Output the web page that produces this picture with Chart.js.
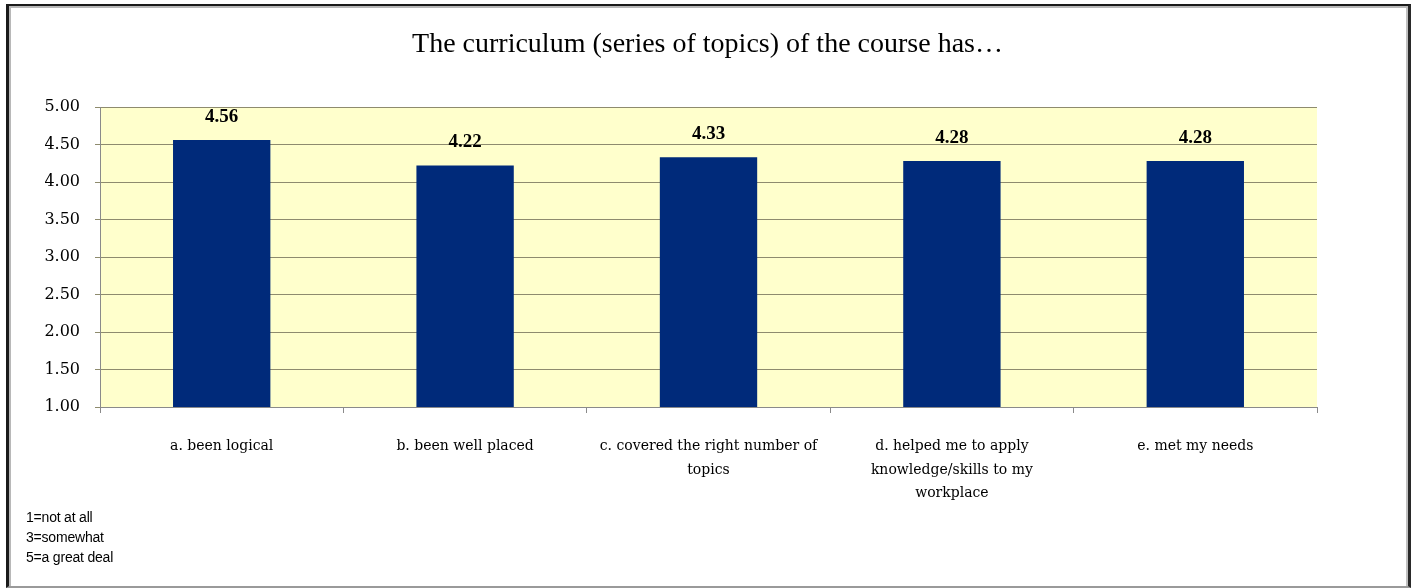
<!DOCTYPE html>
<html>
<head>
<meta charset="utf-8">
<script src="https://cdn.jsdelivr.net/npm/chart.js@4"></script>
<style>
  html, body { margin: 0; padding: 0; background: #ffffff; }
  #wrap { position: relative; width: 1415px; height: 588px; overflow: hidden; }
  #frame { position: absolute; left: 6px; top: 4px; width: 1399px; height: 580px;
           border-left: 3px solid #1a1a1a; border-top: 2px solid #1a1a1a;
           border-right: 3px solid #2a2a2a; border-bottom: 2px solid #9a9a9a;
           box-shadow: inset 2px 2px 0 #b8b8b8, inset -2px 0 0 #c0c0c0; pointer-events: none; }
  #note { position: absolute; left: 26px; top: 507px; font: 14px "Liberation Sans", Arial, sans-serif;
          line-height: 20px; color: #000; letter-spacing: -0.2px; }
  canvas { position: absolute; left: 0; top: 0; }
</style>
</head>
<body>
<div id="wrap">
  <canvas id="c" width="1415" height="588"></canvas>
  <div id="frame"></div>
  <div id="note">1=not at all<br>3=somewhat<br>5=a great deal</div>
</div>
<script>
const categories = [
  "a. been logical",
  "b. been well placed",
  ["c. covered the right number of", "topics"],
  ["d. helped me to apply", "knowledge/skills to my", "workplace"],
  "e. met my needs"
];
const scores = [4.56, 4.22, 4.33, 4.28, 4.28];
const yTicks = [1.00, 1.50, 2.00, 2.50, 3.00, 3.50, 4.00, 4.50, 5.00];
const chartTitle = "The curriculum (series of topics) of the course has\u2026";

const plotBg = {
  id: 'plotBg',
  beforeDraw(chart) {
    const a = chart.chartArea, ctx = chart.ctx;
    ctx.save();
    ctx.fillStyle = '#FFFFCC';
    ctx.fillRect(a.left, a.top, a.right - a.left, a.bottom - a.top);
    ctx.restore();
  }
};

const valueLabels = {
  id: 'valueLabels',
  afterDatasetsDraw(chart) {
    const ctx = chart.ctx;
    const meta = chart.getDatasetMeta(0);
    ctx.save();
    ctx.font = 'bold 19px "Liberation Serif", "Times New Roman", serif';
    ctx.fillStyle = '#000';
    ctx.textAlign = 'center';
    ctx.textBaseline = 'middle';
    meta.data.forEach((bar, i) => {
      ctx.fillText(scores[i].toFixed(2), bar.x, bar.y - 23);
    });
    ctx.restore();
  }
};

new Chart(document.getElementById('c'), {
  type: 'bar',
  data: {
    labels: categories,
    datasets: [{
      data: scores,
      backgroundColor: '#002A7A',
      borderWidth: 0,
      categoryPercentage: 1.0,
      barPercentage: 0.4
    }]
  },
  options: {
    responsive: false,
    animation: false,
    events: [],
    layout: { padding: { left: 0, right: 0, top: 0, bottom: 0 } },
    plugins: {
      legend: { display: false },
      tooltip: { enabled: false },
      title: {
        display: true,
        text: chartTitle,
        color: '#000',
        font: { family: '"Liberation Serif", "Times New Roman", serif', size: 28, weight: 'normal', lineHeight: 1.0 },
        padding: { top: 31, bottom: 48 }
      }
    },
    scales: {
      x: {
        grid: { display: true, drawOnChartArea: false, drawTicks: true, tickLength: 6, color: '#8a8a8a', offset: true },
        border: { display: true, color: '#8a8a8a', width: 1 },
        ticks: {
          color: '#000',
          padding: 22,
          maxRotation: 0,
          autoSkip: false,
          font: { family: '"DejaVu Serif", serif', size: 14, lineHeight: 1.68 }
        },
        afterFit(scale) { scale.height = 181; }
      },
      y: {
        min: 1,
        max: 5,
        afterBuildTicks(scale) { scale.ticks = yTicks.map(v => ({ value: v })); },
        grid: { color: '#8E8B6E', lineWidth: 1, tickLength: 5, drawTicks: true },
        border: { display: true, color: '#8a8a8a', width: 1 },
        ticks: {
          color: '#000',
          padding: 15,
          font: { family: '"DejaVu Serif", serif', size: 16 },
          callback: (v) => Number(v).toFixed(2)
        },
        afterFit(scale) { scale.width = 100; }
      },
      yRightSpace: {
        position: 'right',
        display: true,
        grid: { display: false, drawOnChartArea: false, drawTicks: false },
        border: { display: false },
        ticks: { display: false },
        afterFit(scale) { scale.width = 98; }
      }
    }
  },
  plugins: [plotBg, valueLabels]
});
</script>
</body>
</html>
